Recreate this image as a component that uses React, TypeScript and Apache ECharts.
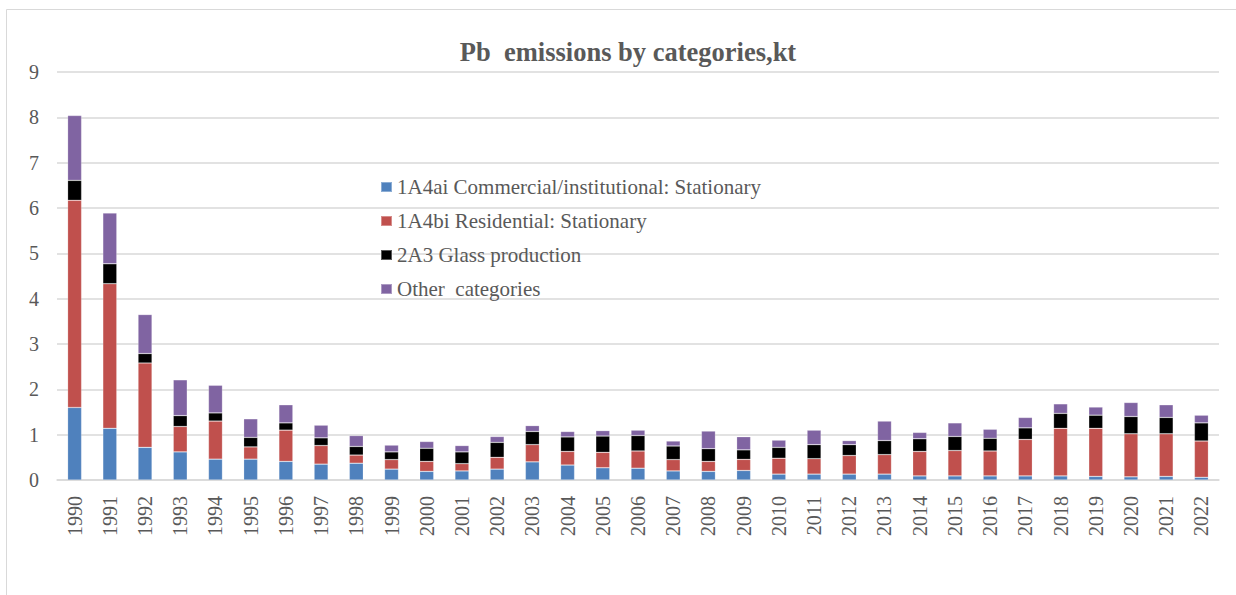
import React, { useEffect, useRef } from "react";
import * as echarts from "echarts";

// Pb emissions by source category, kt, 1990–2022
const years = [
  "1990", "1991", "1992", "1993", "1994", "1995", "1996", "1997", "1998", "1999",
  "2000", "2001", "2002", "2003", "2004", "2005", "2006", "2007", "2008", "2009",
  "2010", "2011", "2012", "2013", "2014", "2015", "2016", "2017", "2018", "2019",
  "2020", "2021", "2022",
];

const commercial = [
  1.6, 1.14, 0.72, 0.62, 0.46, 0.46, 0.41, 0.35, 0.37, 0.24,
  0.19, 0.2, 0.24, 0.4, 0.33, 0.27, 0.26, 0.2, 0.19, 0.21,
  0.13, 0.13, 0.13, 0.13, 0.09, 0.09, 0.09, 0.09, 0.09, 0.08,
  0.07, 0.08, 0.06,
];

const residential = [
  4.57, 3.19, 1.86, 0.56, 0.84, 0.27, 0.69, 0.41, 0.18, 0.21,
  0.22, 0.16, 0.26, 0.38, 0.3, 0.34, 0.38, 0.25, 0.22, 0.245,
  0.35, 0.34, 0.41, 0.43, 0.54, 0.56, 0.55, 0.805, 1.05, 1.06,
  0.95, 0.94, 0.8,
];

const glass = [
  0.44, 0.44, 0.21, 0.24, 0.18, 0.21, 0.16, 0.17, 0.19, 0.17,
  0.29, 0.26, 0.33, 0.29, 0.32, 0.36, 0.34, 0.3, 0.28, 0.21,
  0.24, 0.31, 0.24, 0.31, 0.28, 0.31, 0.28, 0.255, 0.33, 0.29,
  0.38, 0.36, 0.4,
];

const other = [
  1.43, 1.12, 0.86, 0.79, 0.61, 0.41, 0.4, 0.28, 0.24, 0.15,
  0.15, 0.14, 0.13, 0.13, 0.12, 0.12, 0.12, 0.11, 0.39, 0.29,
  0.16, 0.32, 0.09, 0.43, 0.14, 0.3, 0.2, 0.23, 0.21, 0.18,
  0.31, 0.28, 0.17,
];

const seriesNames = [
  "1A4ai Commercial/institutional: Stationary",
  "1A4bi Residential: Stationary",
  "2A3 Glass production",
  "Other  categories",
];

const seriesColors = ["#4F81BD", "#C0504D", "#000000", "#8064A2"];

const FONT = "Liberation Serif";
const TEXT = "#595959";
const GRID = "#d9d9d9";

export default function App() {
  const ref = useRef<HTMLDivElement | null>(null);

  useEffect(() => {
    if (!ref.current) return;
    const chart = echarts.init(ref.current, undefined, { renderer: "svg" });
    const values = [commercial, residential, glass, other];

    chart.setOption({
      animation: false,
      backgroundColor: "#ffffff",
      textStyle: { fontFamily: FONT },
      title: {
        text: "Pb  emissions by categories,kt",
        left: 623,
        textAlign: "center",
        top: 33,
        textStyle: {
          fontFamily: FONT,
          fontWeight: "bold",
          fontSize: 26.5,
          color: TEXT,
        },
      },
      graphic: [
        {
          type: "rect",
          shape: { x: 6.5, y: 9.5, width: 1400, height: 800 },
          style: { fill: "none", stroke: GRID, lineWidth: 1 },
          silent: true,
          z: -1,
        },
      ],
      legend: {
        orient: "vertical",
        left: 375,
        top: 170,
        itemWidth: 11,
        itemHeight: 10,
        itemGap: 10,
        icon: "rect",
        textStyle: {
          fontFamily: FONT,
          fontSize: 21,
          lineHeight: 24,
          color: TEXT,
        },
        data: seriesNames,
      },
      grid: { left: 57, right: 17, top: 72, bottom: 115 },
      xAxis: {
        type: "category",
        data: years,
        axisLine: { lineStyle: { color: GRID, width: 1.5 } },
        axisTick: { show: false },
        axisLabel: {
          rotate: 90,
          margin: 16,
          fontFamily: FONT,
          fontSize: 20,
          color: TEXT,
          interval: 0,
        },
      },
      yAxis: {
        type: "value",
        min: 0,
        max: 9,
        interval: 1,
        axisLine: { show: false },
        axisTick: { show: false },
        splitLine: { lineStyle: { color: GRID, width: 1.5 } },
        axisLabel: {
          margin: 18,
          fontFamily: FONT,
          fontSize: 20,
          color: TEXT,
        },
      },
      series: seriesNames.map((name, i) => ({
        name,
        type: "bar",
        stack: "total",
        barWidth: 14,
        data: values[i],
        itemStyle: {
          color: seriesColors[i],
          borderColor: "rgba(255,255,255,0.35)",
          borderWidth: 0.6,
        },
      })),
    });

    return () => chart.dispose();
  }, []);

  return (
    <div
      ref={ref}
      style={{ position: "fixed", left: 0, top: 0, width: 1236, height: 595 }}
    />
  );
}
